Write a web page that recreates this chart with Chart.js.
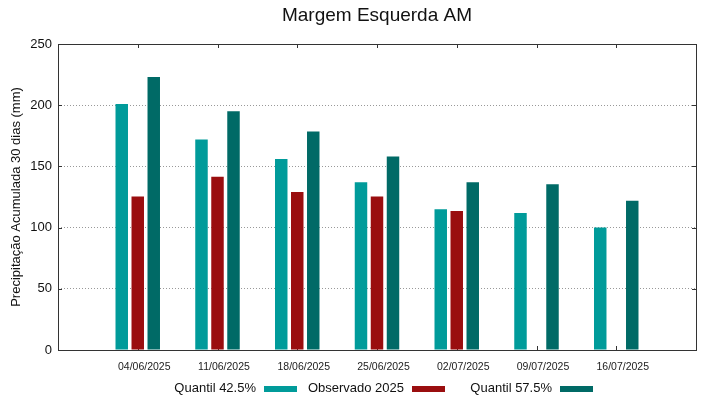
<!DOCTYPE html>
<html>
<head>
<meta charset="utf-8">
<script src="https://cdn.jsdelivr.net/npm/chart.js@4/dist/chart.umd.min.js"></script>
<style>
  body { margin: 0; background: #fff; }
  canvas { display: block; }
</style>
</head>
<body>
<canvas id="chart" width="719" height="399"></canvas>
<script>
const dates = ["04/06/2025", "11/06/2025", "18/06/2025", "25/06/2025", "02/07/2025", "09/07/2025", "16/07/2025"];
const quantil425 = [201, 172, 156, 137, 115, 112, 100];
const observado = [125.5, 141.5, 129, 125.5, 113.5];
const quantil575 = [223, 195, 178.5, 158, 137, 135.5, 122];
const yTicks = [0, 50, 100, 150, 200, 250];

const legendItems = ["Quantil 42.5%", "Observado 2025", "Quantil 57.5%"];
const colors = ["#009b9a", "#9a0e0f", "#006a66"];

// empty slots at both ends, like the gnuplot x range
const labels = ["", ...dates, ""];
const pad = arr => [null, ...dates.map((_, i) => arr[i] ?? null), null];

const FONT = "'Liberation Sans', Arial, sans-serif";
const AXIS = "#333333";

// box, inner ticks, gnuplot-style legend
const gnuplotFrame = {
  id: "gnuplotFrame",
  beforeDatasetsDraw(chart) {
    const { ctx, chartArea: a, scales: { x, y } } = chart;
    ctx.save();
    ctx.strokeStyle = AXIS;
    ctx.lineWidth = 1;
    ctx.beginPath();
    for (let i = 1; i < labels.length - 1; i++) {
      const px = Math.round(x.getPixelForTick(i)) + 0.5;
      ctx.moveTo(px, a.top); ctx.lineTo(px, a.top + 4);
      ctx.moveTo(px, a.bottom); ctx.lineTo(px, a.bottom - 4);
    }
    yTicks.slice(1, -1).forEach(v => {
      const py = Math.round(y.getPixelForValue(v)) + 0.5;
      ctx.moveTo(a.left, py); ctx.lineTo(a.left + 4, py);
      ctx.moveTo(a.right, py); ctx.lineTo(a.right - 4, py);
    });
    ctx.stroke();
    ctx.restore();
  },
  afterDraw(chart) {
    const { ctx, chartArea: a } = chart;
    ctx.save();
    ctx.strokeStyle = AXIS;
    ctx.lineWidth = 1;
    ctx.strokeRect(Math.round(a.left) + 0.5, Math.round(a.top) + 0.5,
      Math.round(a.right - a.left), Math.round(a.bottom - a.top));

    // legend: text right-aligned before a colour sample, fixed column width
    ctx.font = "13px " + FONT;
    ctx.textAlign = "right";
    ctx.textBaseline = "middle";
    ctx.fillStyle = "#111";
    const legY = 388;
    legendItems.forEach((t, k) => {
      const sRight = 297 + k * 148;
      const sLeft = sRight - 33;
      ctx.fillText(t, sLeft - 8, legY);
      ctx.fillStyle = colors[k];
      ctx.fillRect(sLeft, legY - 2, 33, 6);
      ctx.fillStyle = "#111";
    });
    ctx.restore();
  }
};

new Chart(document.getElementById("chart"), {
  type: "bar",
  data: {
    labels: labels,
    datasets: [
      { label: legendItems[0], data: pad(quantil425), backgroundColor: colors[0] },
      { label: legendItems[1], data: pad(observado), backgroundColor: colors[1] },
      { label: legendItems[2], data: pad(quantil575), backgroundColor: colors[2] }
    ]
  },
  options: {
    responsive: false,
    animation: false,
    categoryPercentage: 0.602,
    barPercentage: 0.78,
    layout: { padding: { left: 0, right: 23, top: 0, bottom: 0 } },
    plugins: {
      legend: { display: false },
      tooltip: { enabled: false },
      title: {
        display: true,
        fullSize: false,
        text: "Margem Esquerda AM",
        color: "#111",
        font: { family: FONT, size: 19, weight: "normal" },
        padding: { top: 4, bottom: 17.2 }
      }
    },
    scales: {
      x: {
        offset: false,
        grid: { display: false, drawTicks: false },
        border: { display: false },
        ticks: {
          color: "#222",
          font: { family: FONT, size: 10.5 },
          padding: 11,
          labelOffset: 6.5,
          maxRotation: 0,
          autoSkip: false
        },
        afterFit: s => { s.height = 49; }
      },
      y: {
        min: 0,
        max: 250,
        grid: {
          color: "#999",
          lineWidth: 1,
          drawTicks: false
        },
        border: { display: false, dash: [1, 2] },
        ticks: {
          stepSize: 50,
          color: "#111",
          font: { family: FONT, size: 13 },
          padding: 6
        },
        title: {
          display: true,
          text: "Precipitação Acumulada 30 dias (mm)",
          color: "#111",
          font: { family: FONT, size: 13 },
          padding: { top: 9, bottom: 0 }
        },
        afterFit: s => { s.width = 58; }
      }
    }
  },
  plugins: [gnuplotFrame]
});
</script>
</body>
</html>
